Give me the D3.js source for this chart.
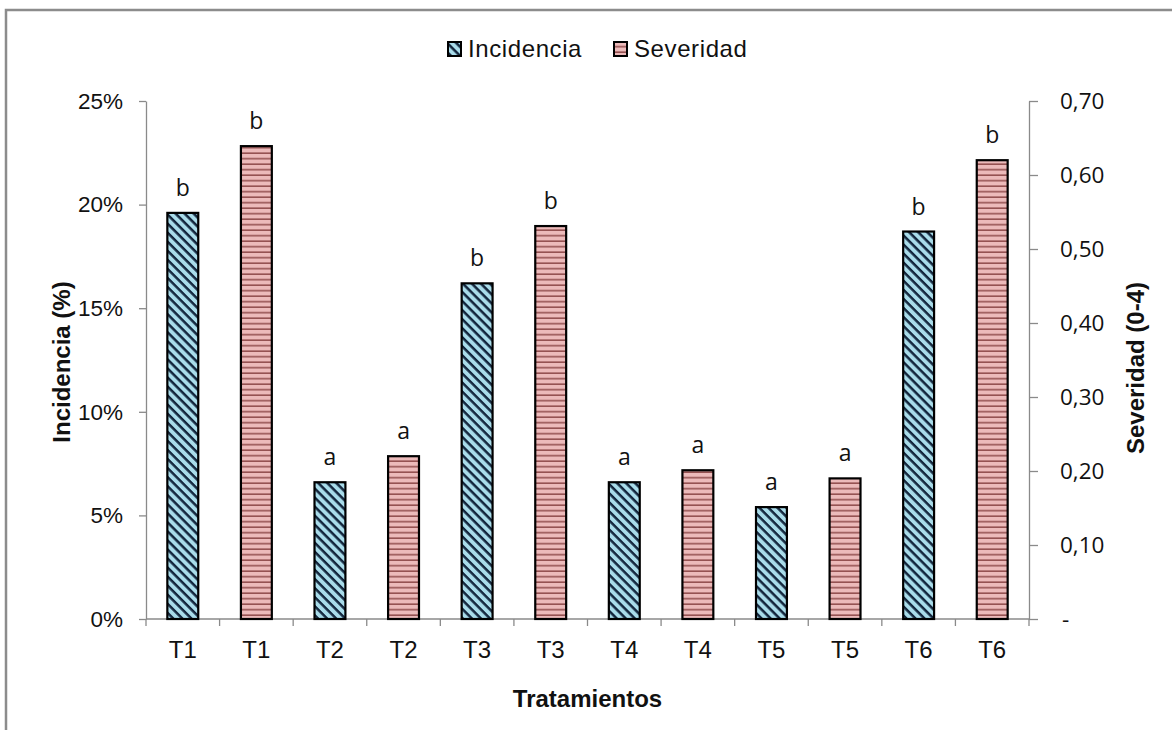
<!DOCTYPE html>
<html>
<head>
<meta charset="utf-8">
<script src="https://cdn.jsdelivr.net/npm/d3@7"></script>
<style>
  body { margin: 0; background: #fff; }
  svg { display: block; }
</style>
</head>
<body>
<script>
const width  = 1172
const height = 730

// datos
const tratamientos = ["T1", "T2", "T3", "T4", "T5", "T6"];
const incidencia   = [0.196, 0.066, 0.162, 0.066, 0.054, 0.187];
const severidad    = [0.639, 0.220, 0.531, 0.201, 0.190, 0.620];
const letrasInc    = ["b", "a", "b", "a", "a", "b"];
const letrasSev    = ["b", "a", "b", "a", "a", "b"];
const ticksInc     = [0, 0.05, 0.10, 0.15, 0.20, 0.25];
const ticksSev     = [0, 0.10, 0.20, 0.30, 0.40, 0.50, 0.60, 0.70];

const margin = {top: 101, right: 143, bottom: 111, left: 146};

// one slot per bar: incidence then severity for each treatment
let bars = [];
tratamientos.forEach((t, i) => {
  bars.push({key: t + "-inc", label: t, serie: "inc", value: incidencia[i], letra: letrasInc[i]});
  bars.push({key: t + "-sev", label: t, serie: "sev", value: severidad[i], letra: letrasSev[i]});
});

const x = d3.scaleBand()
  .domain(bars.map(d => d.key))
  .range([margin.left, width - margin.right])
  .paddingInner(0.58)
  .paddingOuter(0.29);

const yInc = d3.scaleLinear().domain([0, 0.25]).range([height - margin.bottom, margin.top]);
const ySev = d3.scaleLinear().domain([0, 0.70]).range([height - margin.bottom, margin.top]);

const svg = d3.select("body").append("svg")
  .attr("width", width)
  .attr("height", height);

// patterns
const defs = svg.append("defs");
const pInc = defs.append("pattern")
  .attr("id", "pat-inc")
  .attr("patternUnits", "userSpaceOnUse")
  .attr("width", 6.4).attr("height", 6.4)
  .attr("patternTransform", "rotate(45)");
pInc.append("rect").attr("width", 6.4).attr("height", 6.4).attr("fill", "#a9dcea");
pInc.append("rect").attr("width", 6.4).attr("height", 2.5).attr("fill", "#13263d");

const pSev = defs.append("pattern")
  .attr("id", "pat-sev")
  .attr("patternUnits", "userSpaceOnUse")
  .attr("width", 10).attr("height", 5.5);
pSev.append("rect").attr("width", 10).attr("height", 5.5).attr("fill", "#ecbaba");
pSev.append("rect").attr("y", 4).attr("width", 10).attr("height", 1.4).attr("fill", "#8a4444");

// outer frame
svg.append("rect")
  .attr("x", 6).attr("y", 10)
  .attr("width", width + 20).attr("height", height + 20)
  .attr("fill", "none")
  .attr("stroke", "#8c8c8c")
  .attr("stroke-width", 2.5);

const axisColor = "#8a8a8a";
const y0 = height - margin.bottom;

// left axis
const gL = svg.append("g")
  .attr("transform", `translate(${margin.left},0)`)
  .call(d3.axisLeft(yInc).tickValues(ticksInc).tickSize(7).tickSizeOuter(0)
    .tickFormat(d => Math.round(d * 100) + "%"));
gL.select(".domain").attr("stroke", axisColor).attr("stroke-width", 1.3);
gL.selectAll(".tick line").attr("stroke", axisColor).attr("stroke-width", 1.3);
gL.selectAll(".tick text")
  .attr("x", -23)
  .attr("fill", "#111")
  .style("font-family", "'Liberation Sans', Arial, sans-serif")
  .style("font-size", "22.5px");

// right axis
const gR = svg.append("g")
  .attr("transform", `translate(${width - margin.right},0)`)
  .call(d3.axisRight(ySev).tickValues(ticksSev).tickSize(9).tickSizeOuter(0)
    .tickFormat(d => d === 0 ? "-" : d3.format(".2f")(d).replace(".", ",")));
gR.select(".domain").attr("stroke", axisColor).attr("stroke-width", 1.3);
gR.selectAll(".tick line").attr("stroke", axisColor).attr("stroke-width", 1.3);
gR.selectAll(".tick text")
  .attr("x", d => d === 0 ? 33 : 31)
  .attr("fill", "#111")
  .style("font-family", "'Open Sans', sans-serif")
  .style("font-size", "22.5px");

// x axis line + ticks at slot boundaries
svg.append("line")
  .attr("x1", margin.left).attr("x2", width - margin.right)
  .attr("y1", y0).attr("y2", y0)
  .attr("stroke", axisColor).attr("stroke-width", 1.3);

const bounds = bars.map(d => x(d.key) - x.step() * x.paddingInner() / 2);
bounds.push(width - margin.right);
svg.append("g")
  .selectAll("line")
  .data(bounds)
  .join("line")
  .attr("x1", d => d).attr("x2", d => d)
  .attr("y1", y0).attr("y2", y0 + 7)
  .attr("stroke", axisColor).attr("stroke-width", 1.3);

svg.append("g")
  .selectAll("text")
  .data(bars)
  .join("text")
  .attr("x", d => x(d.key) + x.bandwidth() / 2)
  .attr("y", y0 + 39)
  .attr("text-anchor", "middle")
  .attr("fill", "#111")
  .style("font-family", "'Liberation Sans', Arial, sans-serif")
  .style("font-size", "24px")
  .text(d => d.label);

// bars
const yOf = d => d.serie === "inc" ? yInc(d.value) : ySev(d.value);

svg.append("g")
  .selectAll("rect")
  .data(bars)
  .join("rect")
  .attr("x", d => x(d.key))
  .attr("y", d => yOf(d))
  .attr("width", x.bandwidth())
  .attr("height", d => y0 - yOf(d))
  .attr("fill", d => d.serie === "inc" ? "url(#pat-inc)" : "url(#pat-sev)")
  .attr("stroke", "#000")
  .attr("stroke-width", 2.2);

// significance letters
svg.append("g")
  .selectAll("text")
  .data(bars)
  .join("text")
  .attr("x", d => x(d.key) + x.bandwidth() / 2)
  .attr("y", d => yOf(d) - 17)
  .attr("text-anchor", "middle")
  .attr("fill", "#111")
  .style("font-family", "'Open Sans', sans-serif")
  .style("font-size", "23px")
  .text(d => d.letra);

// axis titles
const titleStyle = t => t
  .attr("fill", "#111")
  .style("font-family", "'Liberation Sans', Arial, sans-serif")
  .style("font-size", "24px")
  .style("font-weight", "bold")
  .attr("text-anchor", "middle");

svg.append("text")
  .attr("transform", "translate(70,362) rotate(-90)")
  .call(titleStyle)
  .text("Incidencia (%)");

svg.append("text")
  .attr("transform", "translate(1144,368) rotate(-90)")
  .call(titleStyle)
  .text("Severidad (0-4)");

svg.append("text")
  .attr("x", (margin.left + width - margin.right) / 2)
  .attr("y", 707)
  .call(titleStyle)
  .text("Tratamientos");

// legend
const legend = [
  {name: "Incidencia", fill: "url(#pat-inc)", x: 448},
  {name: "Severidad", fill: "url(#pat-sev)", x: 614}
];
const lg = svg.append("g")
  .selectAll("g")
  .data(legend)
  .join("g")
  .attr("transform", d => `translate(${d.x},42)`);
lg.append("rect")
  .attr("width", 13).attr("height", 14)
  .attr("fill", d => d.fill)
  .attr("stroke", "#000")
  .attr("stroke-width", 2);
lg.append("text")
  .attr("x", 20)
  .attr("y", 15)
  .attr("fill", "#111")
  .style("font-family", "'Liberation Sans', Arial, sans-serif")
  .style("font-size", "24px")
  .style("letter-spacing", "0.6px")
  .text(d => d.name);
</script>
</body>
</html>
